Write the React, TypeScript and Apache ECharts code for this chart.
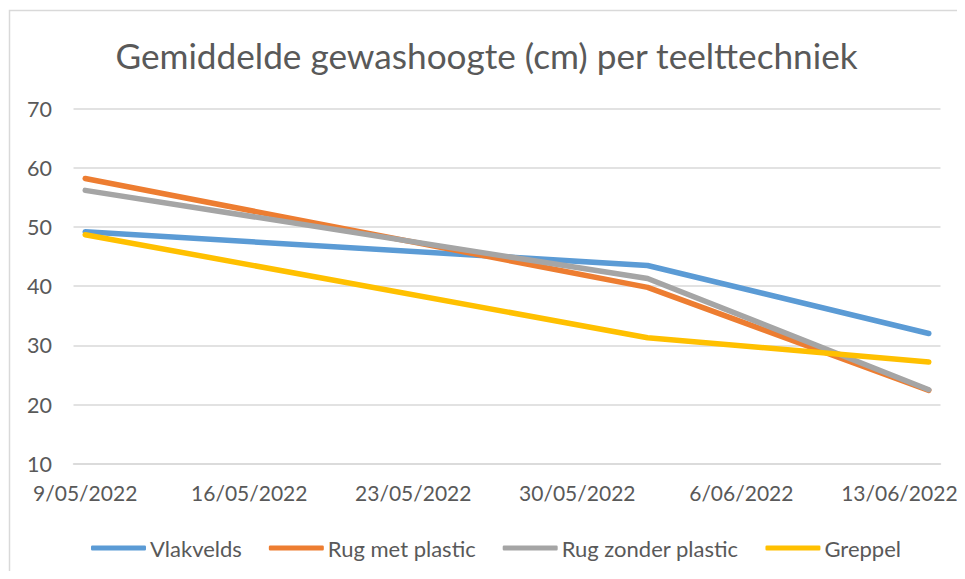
import React, { useEffect, useRef } from "react";
import * as echarts from "echarts";

const TITLE = "Gemiddelde gewashoogte (cm) per teelttechniek";
const AXIS_START = "2022-05-09";
const AXIS_END = "2022-06-14";
const LABEL_EVERY_DAYS = 7;
const DATES = ["9/05/2022", "2/06/2022", "14/06/2022"];
const SERIES_NAMES = ["Vlakvelds", "Rug met plastic", "Rug zonder plastic", "Greppel"];
const VLAKVELDS = [49.2, 43.5, 32.0];
const RUG_MET_PLASTIC = [58.2, 39.8, 22.4];
const RUG_ZONDER_PLASTIC = [56.2, 41.3, 22.5];
const GREPPEL = [48.7, 31.3, 27.2];
const COLORS = ["#5B9BD5", "#ED7D31", "#A5A5A5", "#FFC000"];
const Y_MIN = 10;
const Y_MAX = 70;
const Y_STEP = 10;

function fmt(d: Date): string {
  const dd = d.getUTCDate();
  const mm = String(d.getUTCMonth() + 1).padStart(2, "0");
  return `${dd}/${mm}/${d.getUTCFullYear()}`;
}

function buildCategories(): string[] {
  const out: string[] = [];
  const start = new Date(AXIS_START + "T00:00:00Z");
  const end = new Date(AXIS_END + "T00:00:00Z");
  for (let t = start.getTime(); t <= end.getTime(); t += 86400000) {
    out.push(fmt(new Date(t)));
  }
  return out;
}

const FONT = "Lato, 'Open Sans', sans-serif";

export default function App() {
  const ref = useRef<HTMLDivElement>(null);
  useEffect(() => {
    if (!ref.current) return;
    const chart = echarts.init(ref.current, null, { renderer: "svg" });
    const categories = buildCategories();
    const lastLabelIdx = Math.floor((categories.length - 1) / LABEL_EVERY_DAYS) * LABEL_EVERY_DAYS;
    const all = [VLAKVELDS, RUG_MET_PLASTIC, RUG_ZONDER_PLASTIC, GREPPEL];
    chart.setOption({
      animation: false,
      backgroundColor: "#ffffff",
      title: {
        text: TITLE,
        left: "center",
        top: 24,
        textStyle: {
          fontFamily: FONT,
          fontSize: 35.2,
          fontWeight: "normal",
          color: "#595959",
        },
      },
      graphic: [
        {
          type: "rect",
          shape: { x: 1.5, y: 2.5, width: 1200, height: 1200 },
          style: { fill: "none", stroke: "#D9D9D9", lineWidth: 1.5 },
          silent: true,
        },
      ],
      grid: { left: 65.5, top: 100.7, width: 867, height: 355, containLabel: false },
      xAxis: {
        type: "category",
        data: categories,
        boundaryGap: true,
        axisLine: { show: true, lineStyle: { color: "#D9D9D9", width: 1.5 } },
        axisTick: { show: false },
        axisLabel: {
          interval: (idx: number) => idx % LABEL_EVERY_DAYS === 0,
          hideOverlap: false,
          margin: 18,
          fontFamily: FONT,
          fontSize: 21,
          color: "#595959",
          formatter: (value: string, idx: number) =>
            idx === lastLabelIdx ? `{last|${value}}` : value,
          rich: {
            last: {
              fontFamily: FONT,
              fontSize: 21,
              color: "#595959",
              padding: [0, 12, 0, 0],
            },
          },
        },
        splitLine: { show: false },
      },
      yAxis: {
        type: "value",
        min: Y_MIN,
        max: Y_MAX,
        interval: Y_STEP,
        axisLine: { show: false },
        axisTick: { show: false },
        axisLabel: {
          margin: 21.5,
          fontFamily: FONT,
          fontSize: 21.5,
          color: "#595959",
        },
        splitLine: { lineStyle: { color: "#D9D9D9", width: 1.5 } },
      },
      legend: {
        data: SERIES_NAMES,
        left: 78,
        top: 524,
        icon: "roundRect",
        itemWidth: 55,
        itemHeight: 5,
        itemGap: 27,
        textStyle: { fontFamily: FONT, fontSize: 22, color: "#595959", padding: [0, 0, 0, -1] },
      },
      series: SERIES_NAMES.map((name, i) => ({
        name,
        type: "line",
        data: DATES.map((d, j) => [d, all[i][j]]),
        showSymbol: false,
        symbol: "none",
        color: COLORS[i],
        lineStyle: { width: 5.5, color: COLORS[i], cap: "round", join: "round" },
        itemStyle: { color: COLORS[i] },
      })),
    });
    return () => chart.dispose();
  }, []);
  return <div ref={ref} style={{ width: 957, height: 563 }} />;
}
